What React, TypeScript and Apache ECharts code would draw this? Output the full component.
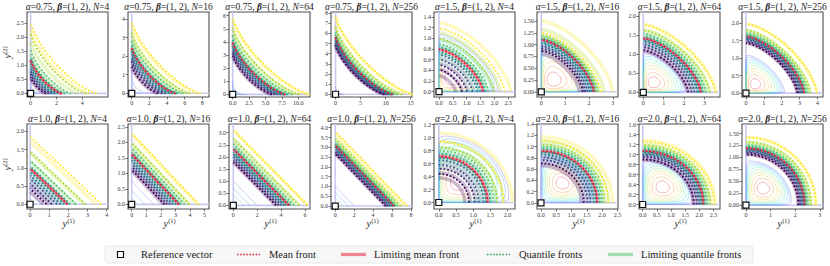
import React, { useEffect, useRef } from "react";
import * as echarts from "echarts";

// ---------------- data ----------------
const alphaText = ["0.75", "0.75", "0.75", "0.75", "1.5", "1.5", "1.5", "1.5", "1.0", "1.0", "1.0", "1.0", "2.0", "2.0", "2.0", "2.0"];
const alphas = [0.75, 0.75, 0.75, 0.75, 1.5, 1.5, 1.5, 1.5, 1.0, 1.0, 1.0, 1.0, 2.0, 2.0, 2.0, 2.0];
const sampleSizes = [4, 16, 64, 256, 4, 16, 64, 256, 4, 16, 64, 256, 4, 16, 64, 256];
const betaWeights = [1, 2]; // x-intercept = 2 * y-intercept

const xMin = [-0.28, -0.42, -0.56, -0.91, -0.18, -0.18, -0.21, -0.22, -0.16, -0.25, -0.36, -0.45, -0.14, -0.13, -0.13, -0.16];
const xMax = [6.0, 8.76, 11.78, 15.26, 2.74, 3.22, 3.76, 4.31, 4.07, 5.3, 6.42, 8.11, 2.22, 2.52, 2.73, 3.13];
const yMin = [-0.13, -0.2, -0.2, -0.27, -0.1, -0.11, -0.12, -0.11, -0.13, -0.15, -0.15, -0.15, -0.1, -0.11, -0.09, -0.08];
const yMax = [2.9, 4.38, 6.28, 8.12, 1.49, 1.69, 2.1, 2.32, 2.2, 2.59, 3.36, 4.19, 1.21, 1.4, 1.61, 1.7];

const xTickValues = [
  [0, 2, 4], [0, 2, 4, 6, 8], [0, 2.5, 5, 7.5, 10], [0, 5, 10, 15],
  [0, 0.5, 1, 1.5, 2, 2.5], [0, 1, 2, 3], [0, 1, 2, 3], [0, 1, 2, 3, 4],
  [0, 1, 2, 3, 4], [0, 1, 2, 3, 4, 5], [0, 2, 4, 6], [0, 2, 4, 6, 8],
  [0, 0.5, 1, 1.5, 2], [0, 0.5, 1, 1.5, 2, 2.5], [0, 0.5, 1, 1.5, 2, 2.5], [0, 1, 2, 3],
];
const xTickDecimals = [0, 0, 1, 0, 1, 0, 0, 0, 0, 0, 0, 0, 1, 1, 1, 0];
const yTickValues = [
  [0, 0.5, 1, 1.5, 2, 2.5], [0, 1, 2, 3, 4], [0, 1, 2, 3, 4, 5, 6], [0, 1, 2, 3, 4, 5, 6, 7, 8],
  [0, 0.2, 0.4, 0.6, 0.8, 1.0, 1.2, 1.4], [0, 0.25, 0.5, 0.75, 1.0, 1.25, 1.5], [0, 0.5, 1, 1.5, 2], [0, 0.5, 1, 1.5, 2],
  [0, 0.5, 1, 1.5, 2], [0, 0.5, 1, 1.5, 2, 2.5], [0, 0.5, 1, 1.5, 2, 2.5, 3], [0, 0.5, 1, 1.5, 2, 2.5, 3, 3.5, 4],
  [0, 0.2, 0.4, 0.6, 0.8, 1.0, 1.2], [0, 0.2, 0.4, 0.6, 0.8, 1.0, 1.2, 1.4], [0, 0.2, 0.4, 0.6, 0.8, 1.0, 1.2, 1.4, 1.6], [0, 0.25, 0.5, 0.75, 1.0, 1.25, 1.5],
];
const yTickDecimals = [1, 0, 0, 0, 1, 2, 1, 1, 1, 1, 1, 1, 1, 1, 1, 2];

// y-intercepts of the fronts (inner purple -> outer yellow)
const quantileFronts = [
  [0.6, 0.72, 0.84, 0.96, 1.08, 1.33, 1.57, 2.14, 2.56],
  [1.5, 1.75, 1.95, 2.15, 2.33, 2.62, 2.95, 3.3, 3.92],
  [3.0, 3.25, 3.48, 3.7, 3.9, 4.2, 4.6, 5.1, 5.88],
  [4.85, 5.05, 5.25, 5.43, 5.58, 5.85, 6.2, 6.7, 7.73],
  [0.41, 0.5, 0.6, 0.69, 0.74, 0.83, 0.89, 0.99, 1.18],
  [0.87, 0.92, 0.97, 1.02, 1.06, 1.12, 1.16, 1.19, 1.25],
  [1.1, 1.18, 1.25, 1.32, 1.37, 1.46, 1.53, 1.62, 1.76],
  [1.43, 1.48, 1.53, 1.57, 1.6, 1.66, 1.72, 1.8, 1.98],
  [0.43, 0.57, 0.7, 0.8, 0.9, 1.05, 1.2, 1.45, 1.86],
  [1.12, 1.22, 1.32, 1.42, 1.52, 1.68, 1.82, 1.98, 2.3],
  [1.79, 1.9, 2.02, 2.13, 2.22, 2.4, 2.55, 2.75, 3.1],
  [2.67, 2.78, 2.88, 2.97, 3.04, 3.17, 3.28, 3.45, 3.81],
  [0.44, 0.52, 0.58, 0.65, 0.69, 0.75, 0.8, 0.85, 0.94],
  [0.7, 0.76, 0.81, 0.86, 0.9, 0.96, 1.0, 1.04, 1.1],
  [0.9, 0.95, 0.99, 1.02, 1.05, 1.1, 1.14, 1.19, 1.26],
  [1.06, 1.1, 1.13, 1.16, 1.18, 1.22, 1.26, 1.32, 1.42],
];
const meanFront = [1.22, 2.5, 4.02, 5.7, 0.79, 1.1, 1.41, 1.62, 0.98, 1.62, 2.33, 3.1, 0.71, 0.92, 1.07, 1.19];
const limitingQuantileFronts = [
  [0.55, 0.68, 0.8, 0.92, 1.05, 1.22, 1.45, 1.85, 2.3],
  [1.45, 1.7, 1.9, 2.1, 2.3, 2.57, 2.88, 3.22, 3.75],
  [2.95, 3.2, 3.45, 3.68, 3.88, 4.17, 4.55, 5.05, 5.78],
  [4.82, 5.02, 5.22, 5.41, 5.57, 5.85, 6.2, 6.72, 7.7],
  [0.3, 0.42, 0.53, 0.63, 0.72, 0.85, 0.97, 1.1, 1.29],
  [0.8, 0.87, 0.94, 1.0, 1.06, 1.14, 1.2, 1.32, 1.5],
  [1.08, 1.16, 1.24, 1.31, 1.37, 1.46, 1.54, 1.64, 1.78],
  [1.43, 1.48, 1.53, 1.57, 1.6, 1.66, 1.72, 1.8, 1.98],
  [0.35, 0.5, 0.62, 0.75, 0.88, 1.02, 1.18, 1.4, 1.72],
  [1.08, 1.18, 1.3, 1.4, 1.5, 1.66, 1.8, 1.98, 2.25],
  [1.77, 1.89, 2.0, 2.12, 2.22, 2.4, 2.56, 2.77, 3.12],
  [2.66, 2.77, 2.87, 2.96, 3.04, 3.17, 3.29, 3.46, 3.7],
  [0.38, 0.46, 0.54, 0.61, 0.67, 0.76, 0.84, 0.94, 1.07],
  [0.66, 0.72, 0.79, 0.85, 0.9, 0.97, 1.03, 1.1, 1.17],
  [0.89, 0.94, 0.98, 1.02, 1.05, 1.1, 1.15, 1.2, 1.28],
  [1.06, 1.1, 1.13, 1.16, 1.18, 1.22, 1.26, 1.32, 1.42],
];
const limitingMeanFront = [1.2, 2.45, 4.0, 5.69, 0.79, 1.1, 1.41, 1.62, 0.98, 1.61, 2.33, 3.1, 0.71, 0.92, 1.07, 1.19];

// density contours (panels with alpha >= 1.5): mode and domain radius
const contourMode: (number[] | null)[] = [
  null, null, null, null,
  [0.45, 0.25], [0.5, 0.25], [0.5, 0.25], [0.5, 0.25],
  null, null, null, null,
  [0.6, 0.32], [0.7, 0.35], [0.7, 0.35], [0.7, 0.35],
];
const contourDomain = [0, 0, 0, 0, 1.1, 1.15, 1.1, 1.12, 0, 0, 0, 0, 1.05, 0.85, 0.92, 0.95];
const contourLevels = [0.04, 0.12, 0.22, 0.34, 0.46, 0.58, 0.7, 0.82, 0.93];
const contourColors = ["#7f7ff5", "#5c9cff", "#3cc4ff", "#3fe0c8", "#7ce68a", "#c4e35a", "#f5c84a", "#f59040", "#f05050"];
// density contours near the origin (panels with alpha <= 1): intercepts
const originContours = [
  [0.25, 0.5], [0.6, 1.25], [0.45, 0.75, 1.1], [0.3, 0.55, 0.85],
  [], [], [], [],
  [0.15, 0.3, 0.5], [0.2, 0.45, 0.75], [0.25, 0.45, 0.7, 1.0], [0.25, 0.45, 0.7, 1.0],
  [], [], [], [],
];
const originContourColors = ["#8585f2", "#5aa8f7", "#4fd2e6", "#80e090"];

const quantileColors = ["#440154", "#472d7b", "#3b528b", "#2c728e", "#21918c", "#28ae80", "#5ec962", "#addc30", "#fde725"];
const meanColor = "#e41a3c";
const limitingMeanColor = "#e8394f";

const legendLabels = ["Reference vector", "Mean front", "Limiting mean front", "Quantile fronts", "Limiting quantile fronts"];

// ---------------- layout ----------------
const PANEL_LEFT = [27, 128, 229, 331, 434, 537, 639, 742];
const PANEL_TOP = [12, 124];
const PANEL_W = 81;
const PANEL_H = 85;
const SERIF = '"Liberation Serif", "DejaVu Serif", serif';

function frontPoints(r: number, alpha: number, K = 60) {
  const pts: number[][] = [];
  const sx = betaWeights[1] / betaWeights[0];
  for (let k = 0; k <= K; k++) {
    const phi = (Math.PI / 2) * (k / K);
    const c = Math.cos(phi), s = Math.sin(phi);
    pts.push([sx * r * Math.pow(c, 2 / alpha), r * Math.pow(s, 2 / alpha)]);
  }
  return pts;
}

function contourLoop(cx: number, cy: number, R: number, alpha: number, level: number, K = 96) {
  const rho = (x: number, y: number) => Math.pow(Math.pow(x / (2 * R), alpha) + Math.pow(y / R, alpha), 1 / alpha);
  const r0 = rho(cx, cy);
  const a = (Math.pow(r0, 1 - alpha) * Math.pow(cx / (2 * R), alpha)) / (1 - r0);
  const b = (Math.pow(r0, 1 - alpha) * Math.pow(cy / R, alpha)) / (1 - r0);
  const logF = (x: number, y: number) => {
    if (x <= 0 || y <= 0) return -Infinity;
    const r = rho(x, y);
    if (r >= 1) return -Infinity;
    return a * Math.log(x) + b * Math.log(y) + Math.log(1 - r);
  };
  const target = logF(cx, cy) + Math.log(level);
  const pts: number[][] = [];
  for (let k = 0; k <= K; k++) {
    const th = (2 * Math.PI * k) / K;
    const ux = Math.cos(th), uy = Math.sin(th);
    let lo = 0, hi = 6 * R;
    for (let it = 0; it < 50; it++) {
      const mid = (lo + hi) / 2;
      if (logF(cx + mid * ux, cy + mid * uy) > target) lo = mid;
      else hi = mid;
    }
    pts.push([cx + lo * ux, cy + lo * uy]);
  }
  return pts;
}

function buildOption() {
  const grid: any[] = [];
  const xAxis: any[] = [];
  const yAxis: any[] = [];
  const series: any[] = [];
  const graphic: any[] = [];

  for (let i = 0; i < 16; i++) {
    const col = i % 8;
    const row = Math.floor(i / 8);
    const left = PANEL_LEFT[col];
    const top = PANEL_TOP[row];
    const al = alphas[i];
    grid.push({ left, top, width: PANEL_W, height: PANEL_H, show: true, borderColor: "#505050", borderWidth: 1.1, backgroundColor: "#ffffff", containLabel: false });
    const xd = xTickDecimals[i];
    const yd = yTickDecimals[i];
    xAxis.push({
      gridIndex: i, type: "value", min: xMin[i], max: xMax[i],
      splitLine: { show: false },
      axisLine: { show: false, onZero: false },
      axisTick: { show: true, length: 2.5, lineStyle: { color: "#505050", width: 0.8 }, customValues: xTickValues[i] },
      axisLabel: { customValues: xTickValues[i], formatter: (v: number) => Number(v).toFixed(xd), fontSize: 6, color: "#333", margin: 3, fontFamily: SERIF },
    });
    yAxis.push({
      gridIndex: i, type: "value", min: yMin[i], max: yMax[i],
      splitLine: { show: false },
      axisLine: { show: false, onZero: false },
      axisTick: { show: true, length: 2.5, lineStyle: { color: "#505050", width: 0.8 }, customValues: yTickValues[i] },
      axisLabel: { customValues: yTickValues[i], formatter: (v: number) => Number(v).toFixed(yd), fontSize: 6, color: "#333", margin: 3, fontFamily: SERIF },
    });

    const base = { xAxisIndex: i, yAxisIndex: i, type: "line", showSymbol: false, symbol: "none", silent: true, animation: false, clip: true };

    // boundary lines along axes
    series.push({ ...base, z: 1, data: [[0, 0], [0, yMax[i]]], lineStyle: { color: "#c9c9f3", width: 1.6 } });
    series.push({ ...base, z: 1, data: [[0, 0], [xMax[i], 0]], lineStyle: { color: "#c9c9f3", width: 1.6 } });

    // contours
    const mode = contourMode[i];
    if (mode) {
      contourLevels.forEach((lv, k) => {
        series.push({ ...base, z: 1, data: contourLoop(mode[0], mode[1], contourDomain[i], al, lv), lineStyle: { color: contourColors[k], width: 0.8, opacity: 0.5 } });
      });
    }
    const oc = originContours[i];
    const ocAlpha = al < 1 ? 0.45 : al;
    oc.forEach((r, k) => {
      const color = originContourColors[oc.length - 1 - k];
      series.push({ ...base, z: 1, data: frontPoints(r, ocAlpha), lineStyle: { color, width: 0.8, opacity: 0.55 } });
    });

    // limiting fronts
    limitingQuantileFronts[i].forEach((r, k) => {
      series.push({ ...base, z: 2, data: frontPoints(r, al), lineStyle: { color: quantileColors[k], width: 3.5, opacity: 0.28 } });
    });
    series.push({ ...base, z: 2, data: frontPoints(limitingMeanFront[i], al), lineStyle: { color: limitingMeanColor, width: 3.2, opacity: 0.55 } });

    // sample fronts (dotted)
    quantileFronts[i].forEach((r, k) => {
      series.push({ ...base, z: 3, data: frontPoints(r, al), lineStyle: { color: quantileColors[k], width: 1.8, type: [1.8, 1.9], cap: "butt" } });
    });
    series.push({ ...base, z: 4, data: frontPoints(meanFront[i], al), lineStyle: { color: meanColor, width: 1.8, type: [1.8, 1.9], cap: "butt" } });

    // reference vector
    series.push({ type: "scatter", xAxisIndex: i, yAxisIndex: i, z: 10, silent: true, animation: false, data: [[0, 0]], symbol: "rect", symbolSize: 6, itemStyle: { color: "#ffffff", borderColor: "#111", borderWidth: 1.2, opacity: 1 } });

    // title
    const tfont = { fontSize: 9.5, fontFamily: SERIF, fill: "#222", color: "#222" };
    graphic.push({
      type: "text", x: left + PANEL_W / 2, y: top - 5.5, silent: true,
      style: {
        text: `{a|α}=${alphaText[i]}, {b|β}=(1, 2), {n|N}=${sampleSizes[i]}`,
        ...tfont,
        align: "center", verticalAlign: "middle", textAlign: "center", textVerticalAlign: "middle",
        rich: {
          a: { ...tfont, fontStyle: "italic" },
          b: { ...tfont, fontStyle: "italic", fontWeight: "bold" },
          n: { ...tfont, fontStyle: "italic" },
        },
      },
    });

    // x label (bottom row)
    if (row === 1) {
      const cx = left + PANEL_W / 2;
      graphic.push({ type: "text", x: cx - 0.5, y: 223.5, silent: true, style: { text: "y", fontSize: 10, fontStyle: "italic", fontFamily: SERIF, fill: "#222", align: "right", verticalAlign: "middle", textAlign: "right", textVerticalAlign: "middle" } });
      graphic.push({ type: "text", x: cx - 0.3, y: 220, silent: true, style: { text: "(1)", fontSize: 6.5, fontFamily: SERIF, fill: "#222", align: "left", verticalAlign: "middle", textAlign: "left", textVerticalAlign: "middle" } });
    }
    // y label (first column)
    if (col === 0) {
      graphic.push({
        type: "group", x: 7.5, y: top + PANEL_H / 2 - 1, rotation: Math.PI / 2, silent: true,
        children: [
          { type: "text", x: -0.5, y: 0, style: { text: "y", fontSize: 10, fontStyle: "italic", fontFamily: SERIF, fill: "#222", align: "right", verticalAlign: "middle", textAlign: "right", textVerticalAlign: "middle" } },
          { type: "text", x: -0.3, y: -3.5, style: { text: "(2)", fontSize: 6.5, fontFamily: SERIF, fill: "#222", align: "left", verticalAlign: "middle", textAlign: "left", textVerticalAlign: "middle" } },
        ],
      });
    }
  }

  // legend
  const ly = 254.5;
  const lfont = { fontSize: 10.5, fontFamily: SERIF, fill: "#222", align: "left", verticalAlign: "middle", textAlign: "left", textVerticalAlign: "middle" };
  graphic.push({ type: "rect", silent: true, shape: { x: 105, y: 246, width: 648, height: 17, r: 2 }, style: { fill: "#f7f7f7", stroke: "#e4e4e4", lineWidth: 0.8 } });
  graphic.push({ type: "rect", silent: true, shape: { x: 117.5, y: ly - 3, width: 6, height: 6 }, style: { fill: "#fff", stroke: "#111", lineWidth: 1.2 } });
  graphic.push({ type: "text", silent: true, x: 141, y: ly, style: { text: legendLabels[0], ...lfont } });
  graphic.push({ type: "line", silent: true, shape: { x1: 237, y1: ly, x2: 260, y2: ly }, style: { stroke: meanColor, lineWidth: 1.5, lineDash: [1.5, 1.6] } });
  graphic.push({ type: "text", silent: true, x: 269, y: ly, style: { text: legendLabels[1], ...lfont } });
  graphic.push({ type: "line", silent: true, shape: { x1: 341, y1: ly, x2: 366, y2: ly }, style: { stroke: limitingMeanColor, lineWidth: 3.2, opacity: 0.6 } });
  graphic.push({ type: "text", silent: true, x: 374, y: ly, style: { text: legendLabels[2], ...lfont } });
  graphic.push({ type: "line", silent: true, shape: { x1: 487, y1: ly, x2: 510, y2: ly }, style: { stroke: "#2ca05a", lineWidth: 1.5, lineDash: [1.5, 1.6] } });
  graphic.push({ type: "text", silent: true, x: 519, y: ly, style: { text: legendLabels[3], ...lfont } });
  graphic.push({ type: "line", silent: true, shape: { x1: 608, y1: ly, x2: 633, y2: ly }, style: { stroke: "#5cc87a", lineWidth: 3.2, opacity: 0.55 } });
  graphic.push({ type: "text", silent: true, x: 641, y: ly, style: { text: legendLabels[4], ...lfont } });

  return { animation: false, backgroundColor: "#ffffff", grid, xAxis, yAxis, series, graphic };
}

export default function App() {
  const ref = useRef<HTMLDivElement>(null);
  useEffect(() => {
    document.body.style.margin = "0";
    if (!ref.current) return;
    const chart = echarts.init(ref.current, undefined, { renderer: "svg" });
    chart.setOption(buildOption() as any);
    return () => chart.dispose();
  }, []);
  return <div ref={ref} style={{ width: 830, height: 266 }} />;
}
